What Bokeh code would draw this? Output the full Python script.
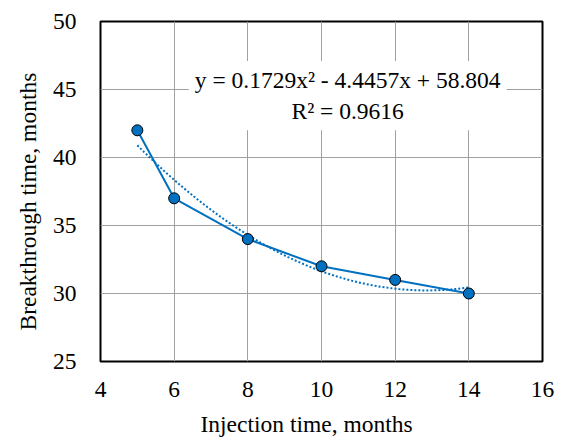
import numpy as np
from bokeh.plotting import figure
from bokeh.models import Range1d, Label, FixedTicker, Title
from bokeh.embed import file_html
from bokeh.resources import INLINE

injection = [5, 6, 8, 10, 12, 14]
breakthrough = [42, 37, 34, 32, 31, 30]
x_ticks = [4, 6, 8, 10, 12, 14, 16]
y_ticks = [25, 30, 35, 40, 45, 50]
eq_text = "y = 0.1729x\u00b2 - 4.4457x + 58.804\nR\u00b2 = 0.9616"
x_title = "Injection time, months"
y_title = "Breakthrough time, months"

FONT = "Liberation Serif"
FS = "23.5px"
BLUE = "#0070C0"

p = figure(width=563, height=445, output_backend="svg", toolbar_location=None,
           x_range=Range1d(4, 16), y_range=Range1d(25, 50),
           min_border_left=100, min_border_right=21, min_border_top=21, min_border_bottom=84)

p.outline_line_color = "black"
p.outline_line_width = 2
p.background_fill_color = "white"

for ax in (p.xaxis, p.yaxis):
    ax.axis_line_color = None
    ax.major_tick_line_color = None
    ax.minor_tick_line_color = None
    ax.major_label_text_font = FONT
    ax.major_label_text_font_size = FS
    ax.major_label_text_color = "black"

p.xaxis.ticker = FixedTicker(ticks=x_ticks)
p.yaxis.ticker = FixedTicker(ticks=y_ticks)
p.xaxis.major_label_standoff = 14
p.yaxis.major_label_standoff = 18

p.xgrid.ticker = FixedTicker(ticks=x_ticks)
p.ygrid.ticker = FixedTicker(ticks=y_ticks)
for g in (p.xgrid, p.ygrid):
    g.grid_line_color = "#a0a0a0"
    g.grid_line_width = 1

# polynomial trendline fitted from the data (as the spreadsheet does)
coef = np.polyfit(injection, breakthrough, 2)
xs = np.linspace(min(injection), max(injection), 100)
p.line(xs, np.polyval(coef, xs), line_color=BLUE, line_width=2, line_dash="2 2")

p.line(injection, breakthrough, line_color=BLUE, line_width=2)
p.scatter(injection, breakthrough, size=11, fill_color=BLUE, line_color="black", line_width=1)

lab = Label(x=10.71, y=44.55, text=eq_text, text_font=FONT, text_font_size=FS,
            text_align="center", text_baseline="middle", text_color="black",
            background_fill_color="white", padding=6)
p.add_layout(lab)

# axis titles (slightly off-centre, as in the reference)
xt = Title(text=x_title, align="left", offset=100, standoff=18,
           text_font=FONT, text_font_size=FS, text_font_style="normal", text_color="black")
yt = Title(text=y_title, align="left", offset=31, standoff=18,
           text_font=FONT, text_font_size=FS, text_font_style="normal", text_color="black")
p.add_layout(xt, "below")
p.add_layout(yt, "left")

open("out.html", "w").write(file_html(p, INLINE))
